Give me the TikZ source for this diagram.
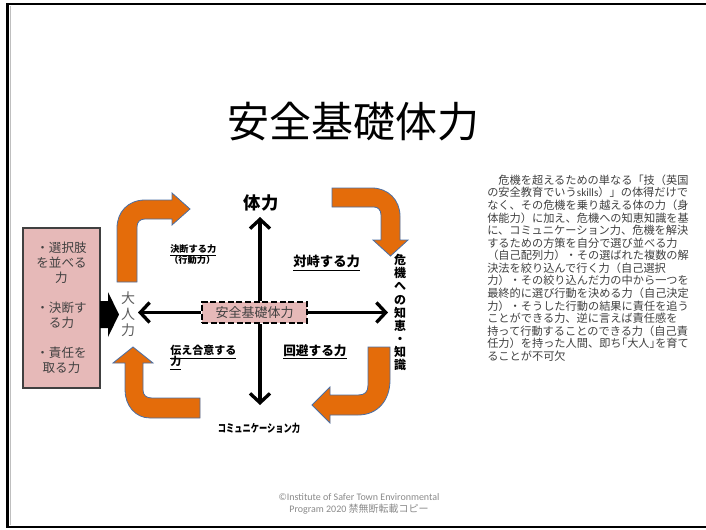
\documentclass[tikz,border=0pt]{standalone}
\usepackage{fontspec}
\setmainfont{Noto Sans CJK JP}
\newfontfamily\footfont{Carlito}
\usetikzlibrary{arrows.meta}
\definecolor{orangeA}{HTML}{E46C0A}
\definecolor{blueEdge}{HTML}{4A6FA5}
\definecolor{pinkF}{HTML}{E6B9B8}
\definecolor{txtgrey}{HTML}{404040}
\definecolor{footgrey}{HTML}{8A8A8A}
\begin{document}
\begin{tikzpicture}[x=0.75pt,y=-0.75pt,
  bentarrow/.style={fill=orangeA,draw=blueEdge,line width=0.6pt,line join=miter},
  axis/.style={line width=2.5pt,-{Straight Barb[length=7pt,width=15pt]}},
  lab/.style={inner sep=0pt,anchor=west,text=black},
  plain/.style={inner sep=0pt}]
\useasboundingbox (0,0) rectangle (706,529);
% slide frame
\draw[line width=2.2pt] (706,4) -- (7.5,4) -- (7.5,527) -- (706,527);
\draw[gray!50,line width=0.6pt] (10,6) -- (10,525);
% title
\node[plain,font=\fontsize{31.5}{36}\selectfont] (title) at (353,122) {安全基礎体力};
% left pink box
\node[plain,draw=txtgrey,line width=0.8pt,fill=pinkF,minimum width=57.75pt,minimum height=120pt,
  align=center,text=txtgrey,font=\fontsize{9.4}{11.25}\selectfont] (lbox) at (61.5,308)
  {・選択肢\\を並べる\\力\\[11.25pt]・決断す\\る力\\[11.25pt]・責任を\\取る力};
% block arrow
\fill (100,301) -- (108,301) -- (108,292) -- (119,314.5) -- (108,337) -- (108,328) -- (100,328) -- cycle;
% otona
\node[plain,align=center,text=txtgrey!85,font=\fontsize{10.5}{12}\selectfont] (otona) at (128,314) {大\\人\\力};
% center box
\node[plain,draw=black,dashed,dash pattern=on 4.5pt off 2pt,line width=1.5pt,fill=pinkF,
  minimum width=78.75pt,minimum height=15.75pt,text=txtgrey,font=\fontsize{9.75}{11}\selectfont]
  (c) at (254.5,312.5) {安全基礎体力};
\coordinate (up) at (260,217);
\coordinate (dn) at (260,405);
\coordinate (lt) at (138,312.5);
\coordinate (rt) at (388,312.5);
\draw[axis] (c.north -| up) -- (up);
\draw[axis] (c.south -| dn) -- (dn);
\draw[axis] (c.west) -- (lt);
\draw[axis] (c.east) -- (rt);
% axis labels
\node[plain,font=\fontsize{13}{14}\selectfont\bfseries] (tairyoku) at (261,203) {体力};
\node[plain,font=\fontsize{8.25}{9}\selectfont\bfseries,xscale=0.75] (comm) at (259,428) {コミュニケーション力};
\node[plain,align=center,font=\fontsize{9}{9.8}\selectfont\bfseries] (kiki) at (400,312.5)
  {危\\機\\へ\\の\\知\\恵\\・\\知\\識};
% quadrant labels
\node[lab,font=\fontsize{6.9}{8}\selectfont\bfseries] (ketsu) at (170,250) {\underline{決断する力}};
\node[lab,font=\fontsize{6.9}{8}\selectfont\bfseries] (kodo) at (169,260.5) {（行動力）};
\node[lab,font=\fontsize{10}{11}\selectfont\bfseries] (taiji) at (293,263) {\underline{対峙する力}};
\node[lab,font=\fontsize{8.25}{9}\selectfont\bfseries] (tsutae) at (170,352) {\underline{伝え合意する}};
\node[lab,font=\fontsize{8.25}{9}\selectfont\bfseries] (tsutae2) at (170,363) {\underline{力}};
\node[lab,font=\fontsize{9.5}{10}\selectfont\bfseries] (kaihi) at (283,352) {\underline{回避する力}};
% orange bent arrows
\draw[bentarrow] (117,282) -- (117,228) .. controls (117,212) and (128,200) .. (145,200)
  -- (172,200) -- (172,193) -- (190,209) -- (172,225) -- (172,219) -- (145,219)
  .. controls (140,219) and (137,222) .. (137,227) -- (137,282) -- cycle;
\draw[bentarrow] (332,188) -- (372,188) .. controls (388,188) and (400,200) .. (400,216)
  -- (400,240) -- (408,240) -- (390.5,256) -- (373,240) -- (381,240) -- (381,215)
  .. controls (381,210) and (378,207) .. (374,207) -- (332,207) -- cycle;
\draw[bentarrow] (368,347) -- (390,347) -- (390,380) .. controls (390,400) and (378,415) .. (358,415)
  -- (330,415) -- (330,423) -- (312,405) -- (330,387) -- (330,395) -- (358,395)
  .. controls (365,395) and (368,392) .. (368,385) -- cycle;
\draw[bentarrow] (133,347) -- (153,363) -- (143,363) -- (143,390) .. controls (143,395) and (146,398) .. (152,398)
  -- (200,398) -- (200,418) -- (150,418) .. controls (135,418) and (125,405) .. (125,390)
  -- (125,363) -- (113,363) -- cycle;
% right paragraph
\node[plain,anchor=north west,align=left,text=txtgrey,font=\fontsize{8.4}{9.43}\selectfont] (para) at (487,174.5)
  {\hspace*{1em}危機を超えるための単なる「技（英国\\
   の安全教育でいう{\footfont skills}）」の体得だけで\\
   なく、その危機を乗り越える体の力（身\\
   体能力）に加え、危機への知恵知識を基\\
   に、コミュニケーション力、危機を解決\\
   するための方策を自分で選び並べる力\\
   （自己配列力）・その選ばれた複数の解\\
   決法を絞り込んで行く力（自己選択\\
   力）・その絞り込んだ力の中から一つを\\
   最終的に選び行動を決める力（自己決定\\
   力）・そうした行動の結果に責任を追う\\
   ことができる力、逆に言えば責任感を\\
   持って行動することのできる力（自己責\\
   任力）を持った人間、即ち｢大人｣を育て\\
   ることが不可欠};
% footer
\node[plain,text=footgrey,font=\footfont\fontsize{7.5}{9}\selectfont] (foot1) at (359,497) {©Institute of Safer Town Environmental};
\node[plain,text=footgrey,font=\footfont\fontsize{7.5}{9}\selectfont] (foot2) at (359,509) {Program 2020 {\rmfamily 禁無断転載コピー}};
\end{tikzpicture}
\end{document}
